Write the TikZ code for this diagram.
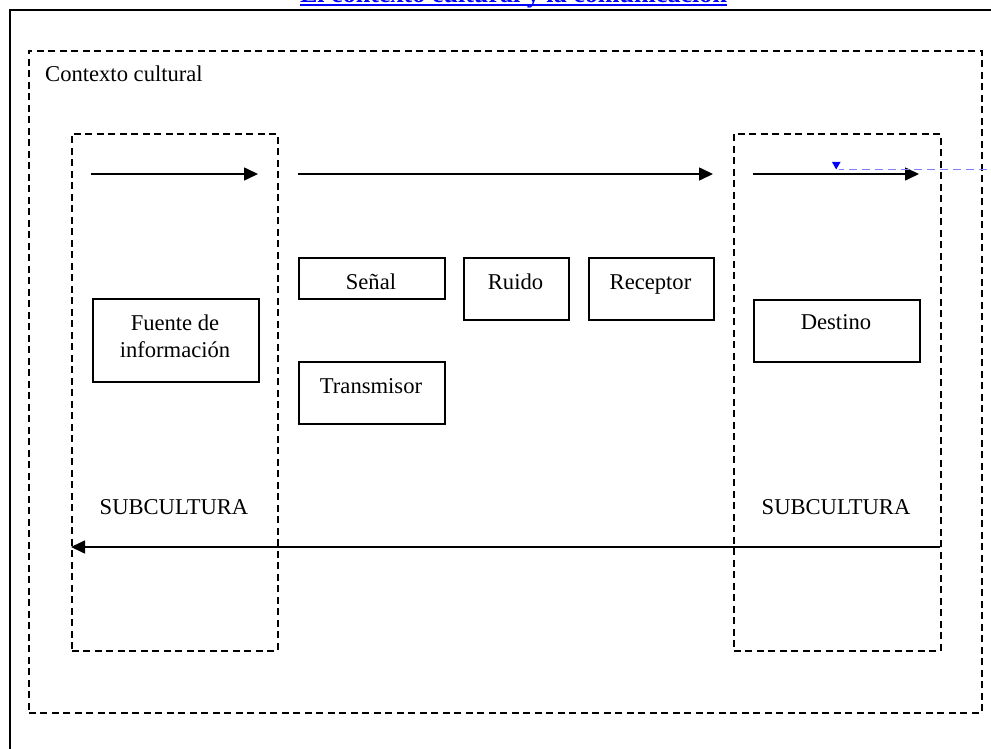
\documentclass[tikz,border=0pt]{standalone}
\usepackage{fontspec}
\setmainfont{Liberation Serif}
\usetikzlibrary{arrows.meta}
\begin{document}
\begin{tikzpicture}[x=1pt,y=-1pt,
  box/.style={draw, line width=1.7pt, rectangle, inner sep=0pt, anchor=north west},
  dbox/.style={draw, line width=1.6pt, dash pattern=on 7pt off 4.5pt, rectangle, inner sep=0pt, anchor=north west},
  lbl/.style={anchor=base, inner sep=0pt, font=\fontsize{22.6}{27}\selectfont},
  arr/.style={line width=1.6pt, -{Triangle[length=14pt,width=13pt]}},
  bluearr/.style={blue!50, line width=1.8pt, dash pattern=on 8pt off 5pt},
]
\useasboundingbox (0,0) rectangle (991,749);
% title (mostly cut off at the top)
\node[anchor=base, inner sep=0pt, text=blue, font=\fontsize{26.1}{30}\selectfont\bfseries] (title) at (513.5,2.3) {El contexto cultural y la comunicación};
\draw[blue, line width=2.6pt] ([yshift=-2.8pt]title.base west) -- ([yshift=-2.8pt]title.base east);
% outer solid frame
\coordinate (fbl) at (10,760);
\coordinate (ftl) at (10,10);
\coordinate (ftr) at (1000,10);
\draw[line width=2.2pt] (fbl) -- (ftl) -- (ftr);
% dashed boxes
\node[dbox, minimum width=953pt, minimum height=662pt] (ctx) at (28,50) {};
\node[dbox, minimum width=206pt, minimum height=517pt] (subL) at (71,133) {};
\node[dbox, minimum width=207pt, minimum height=517pt] (subR) at (733,133) {};
\node[lbl, anchor=base west] (ctxt) at (45,82) {Contexto cultural};
\node[lbl] (subLt) at (174,514) {SUBCULTURA};
\node[lbl] (subRt) at (836,514) {SUBCULTURA};
% solid boxes
\node[box, minimum width=166pt, minimum height=83pt] (fuente) at (92,298) {};
\node[lbl] (fuentet) at (175,330) {Fuente de};
\node[lbl] (fuentet2) at (175,357) {información};
\node[box, minimum width=146pt, minimum height=41pt] (senal) at (298,257) {};
\node[lbl] (senalt) at (371,289) {Señal};
\node[box, minimum width=105pt, minimum height=62pt] (ruido) at (463,257) {};
\node[lbl] (ruidot) at (515.5,289) {Ruido};
\node[box, minimum width=125pt, minimum height=62pt] (receptor) at (588,257) {};
\node[lbl] (receptort) at (650.5,289) {Receptor};
\node[box, minimum width=146pt, minimum height=62pt] (transmisor) at (298,361) {};
\node[lbl] (transmisort) at (371,393) {Transmisor};
\node[box, minimum width=166pt, minimum height=62pt] (destino) at (753,299) {};
\node[lbl] (destinot) at (836,329) {Destino};
% arrows
\coordinate (a1s) at (91,174);  \coordinate (a1e) at (258,174);
\coordinate (a2s) at (298,174); \coordinate (a2e) at (713,174);
\coordinate (a3s) at (753,174); \coordinate (a3e) at (919,174);
\coordinate (a4s) at (940,547); \coordinate (a4e) at (71,547);
\draw[arr] (a1s) -- (a1e);
\draw[arr] (a2s) -- (a2e);
\draw[arr] (a3s) -- (a3e);
\draw[arr] (a4s) -- (a4e);
% blue dashed connector
\coordinate (bs) at (1000,169.5);
\coordinate (be) at (839,169.5);
\draw[bluearr] (bs) -- (be);
\fill[blue] (832,162) -- (840.5,162) -- (836.2,169.5) -- cycle;
\end{tikzpicture}
\end{document}
